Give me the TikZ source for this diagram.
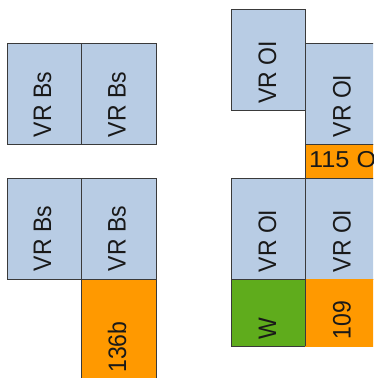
\documentclass[tikz,border=0pt]{standalone}
\usepackage{fontspec}
\usepackage{graphicx}
\setmainfont{Liberation Sans}
\definecolor{vrblue}{HTML}{B8CCE4}
\definecolor{vrorange}{HTML}{FF9900}
\definecolor{vrgreen}{HTML}{5FAC1C}
\definecolor{vredge}{HTML}{3A3A3A}
\newcommand{\vtxt}[1]{\scalebox{1}[1.1]{#1}}
\newcommand{\htxt}[1]{\scalebox{1.1}[1]{#1}}
\begin{document}
\begin{tikzpicture}[x=1pt,y=-1pt,
  cell/.style={draw=vredge,line width=1pt,anchor=north west,inner sep=0pt,outer sep=0pt},
  blue/.style={cell,fill=vrblue},
  orange/.style={cell,fill=vrorange},
  green/.style={cell,fill=vrgreen},
  lbl/.style={font=\fontsize{23}{25}\selectfont,text=black!90,inner sep=0pt},
  vlbl/.style={lbl,rotate=90}]
\useasboundingbox (0,0) rectangle (373,378);
\clip (0,0) rectangle (373,378);
% left group
\node[blue,minimum width=74pt,minimum height=101pt] (b1) at (7.5,43) {};
\node[blue,minimum width=74.5pt,minimum height=101pt] (b2) at (81.5,43) {};
\node[blue,minimum width=74pt,minimum height=101pt] (b3) at (7.5,178) {};
\node[blue,minimum width=74.5pt,minimum height=101pt] (b4) at (81.5,178) {};
\node[orange,minimum width=74.5pt,minimum height=140pt] (o1) at (81.5,279) {};
% right group
\node[blue,minimum width=74pt,minimum height=101pt] (r1) at (231,9) {};
\node[blue,minimum width=74pt,minimum height=101pt] (r2) at (305,43) {};
\node[orange,minimum width=74pt,minimum height=34pt] (o2) at (305,144) {};
\node[blue,minimum width=74pt,minimum height=101pt] (r3) at (231,178) {};
\node[blue,minimum width=74pt,minimum height=101pt] (r4) at (305,178) {};
\node[green,minimum width=74pt,minimum height=67pt] (g1) at (231,279) {};
\node[orange,draw=vrorange,minimum width=74pt,minimum height=67pt] (o3) at (305,279) {};
\draw[vredge,line width=1pt] (o3.north west) -- (o3.south west);
% labels
\node[vlbl] (t1) at (42.5,104.5) {\vtxt{VR Bs}};
\node[vlbl] (t2) at (117,104.5) {\vtxt{VR Bs}};
\node[vlbl] (t3) at (42.5,238.5) {\vtxt{VR Bs}};
\node[vlbl] (t4) at (117,238.5) {\vtxt{VR Bs}};
\node[vlbl] (t5) at (117,347) {\vtxt{136b}};
\node[vlbl] (t6) at (267.5,72.5) {\vtxt{VR OI}};
\node[vlbl] (t7) at (342,106) {\vtxt{VR OI}};
\node[lbl,anchor=west] (t8) at (309,160) {\htxt{115 O}};
\node[vlbl] (t9) at (267.5,241) {\vtxt{VR OI}};
\node[vlbl] (t10) at (342,241) {\vtxt{VR OI}};
\node[vlbl] (t11) at (267.5,328.5) {\vtxt{W}};
\node[vlbl] (t12) at (342,320) {\vtxt{109}};
\end{tikzpicture}
\end{document}
